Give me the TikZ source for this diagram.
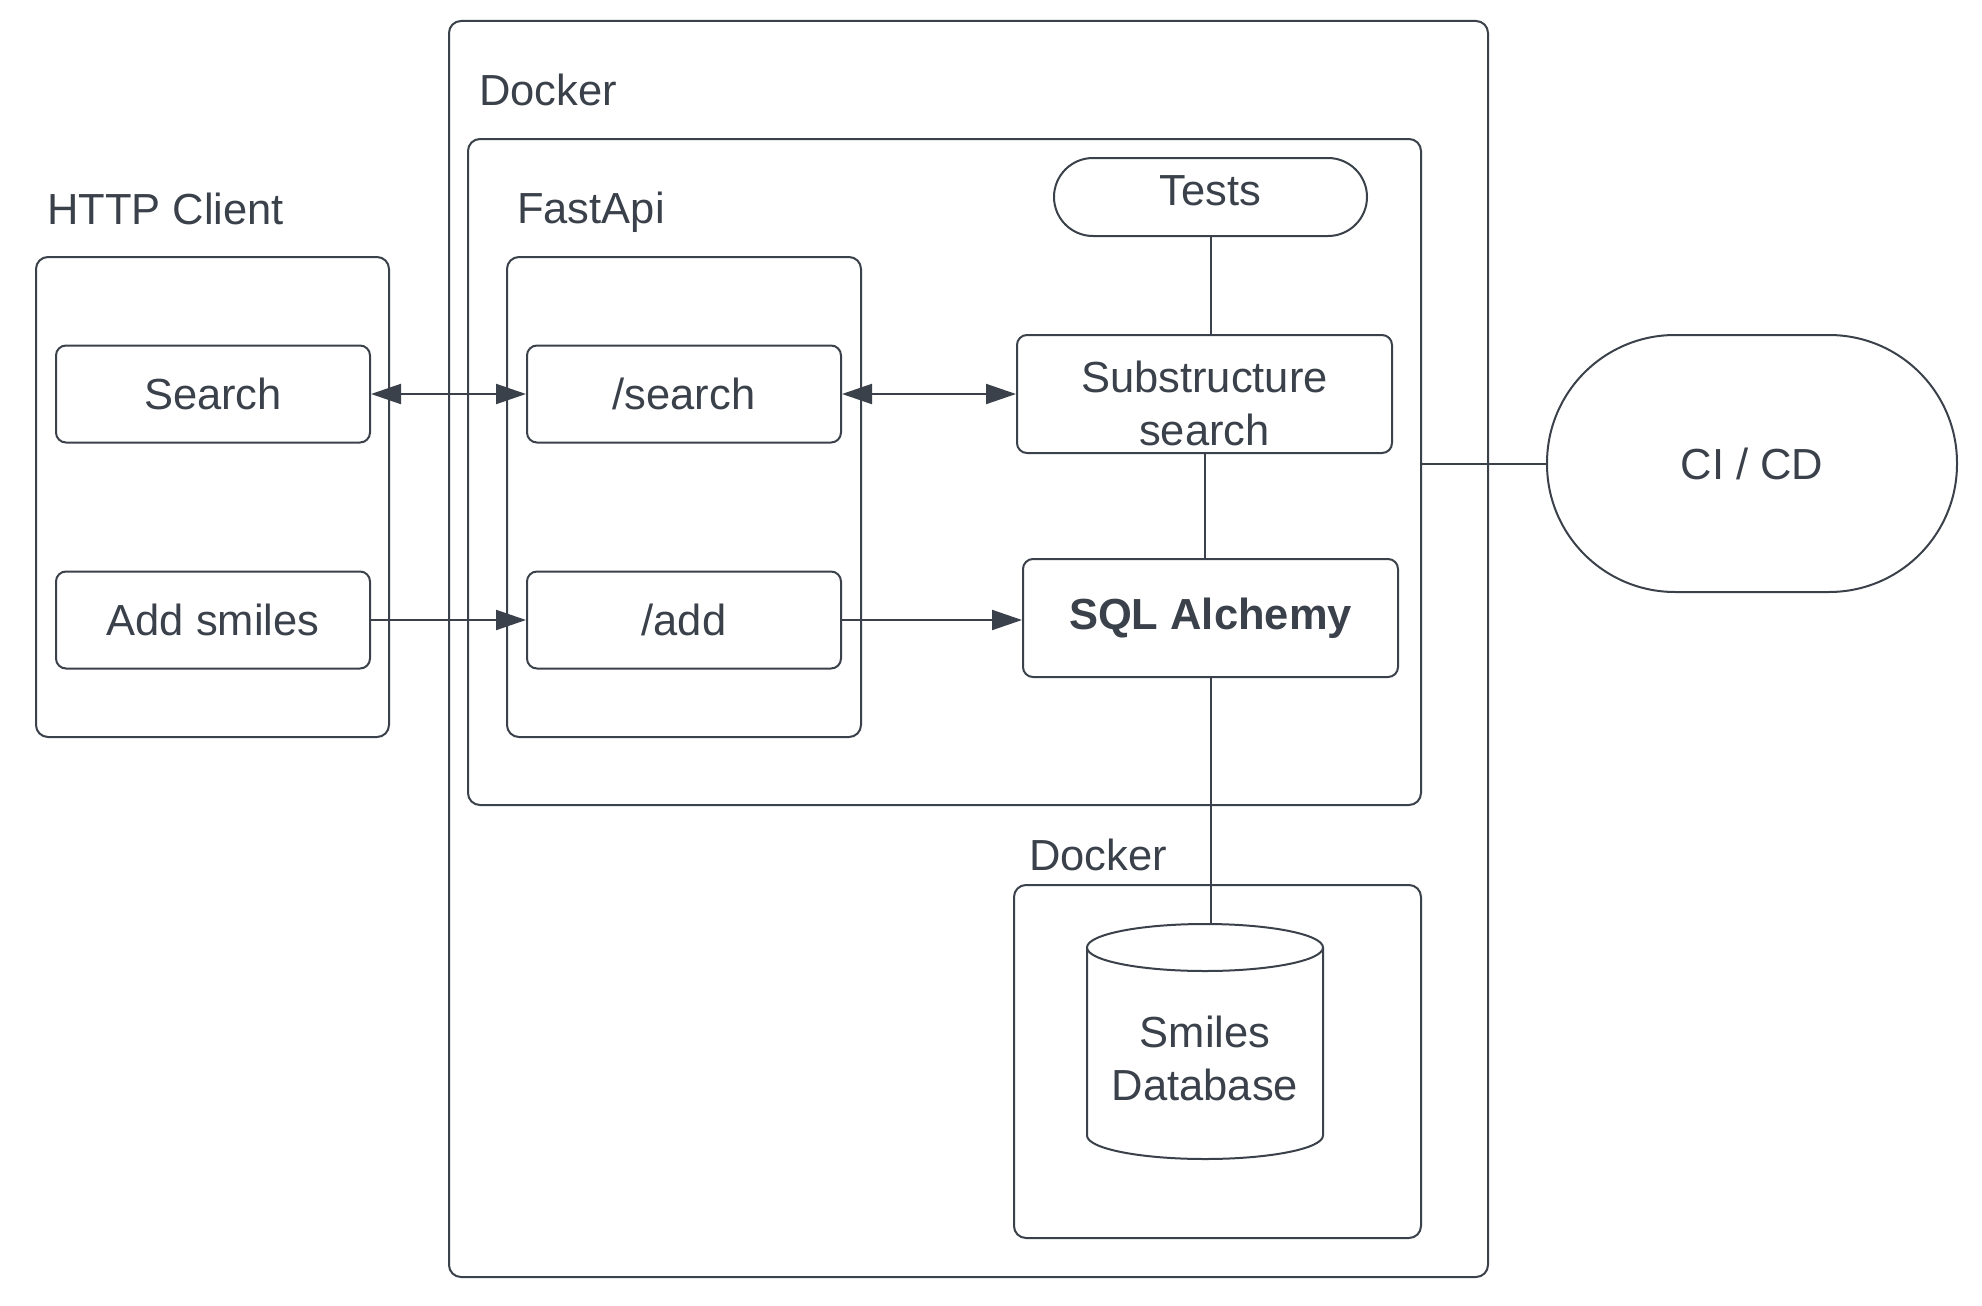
\documentclass[tikz,border=0pt]{standalone}
\usepackage{fontspec}
\setmainfont{Liberation Sans}
\usetikzlibrary{arrows.meta}
\definecolor{ink}{RGB}{58,65,74}
\begin{document}
\begin{tikzpicture}[x=1pt,y=-1pt,
  every node/.style={text=ink,font=\fontsize{43.5}{53}\selectfont},
  container/.style={draw=ink,line width=2pt,rounded corners=12pt,inner sep=0pt},
  box/.style={draw=ink,line width=2pt,rounded corners=10pt,inner sep=0pt,align=center},
  pill/.style={draw=ink,line width=2pt,inner sep=0pt,align=center},
  lbl/.style={anchor=base west,inner sep=0pt},
  conn/.style={draw=ink,line width=2pt},
  tip/.style={-{Triangle[length=30pt,width=20pt]}},
  tips/.style={{Triangle[length=30pt,width=20pt]}-{Triangle[length=30pt,width=20pt]}}]
\useasboundingbox (0,0) rectangle (1982,1306);

% containers
\node[container,minimum width=1039pt,minimum height=1256pt] (outer) at (968.5,649) {};
\node[container,minimum width=953pt,minimum height=666pt] (fastC) at (944.5,472) {};
\node[container,minimum width=353pt,minimum height=480pt] (http) at (212.5,497) {};
\node[container,minimum width=354pt,minimum height=480pt] (fastbox) at (684,497) {};
\node[container,minimum width=407pt,minimum height=353pt] (dbdock) at (1217.5,1061.5) {};

% labels
\node[lbl] (lDocker) at (479,105) {Docker};
\node[lbl] (lFast) at (517,223) {FastApi};
\node[lbl] (lHttp) at (47,224) {HTTP Client};
\node[lbl] (lDocker2) at (1029,870) {Docker};

% boxes
\node[box,minimum width=314pt,minimum height=97pt] (search) at (213,394) {Search};
\node[box,minimum width=314pt,minimum height=97pt] (addsm) at (213,620) {Add smiles};
\node[box,minimum width=314pt,minimum height=97pt] (psearch) at (684,394) {/search};
\node[box,minimum width=314pt,minimum height=97pt] (padd) at (684,620) {/add};
\node[pill,rounded corners=39pt,minimum width=313pt,minimum height=78pt] (tests) at (1210.5,197) {Tests\rule[-12pt]{0pt}{0pt}};
\node[box,minimum width=375pt,minimum height=118pt] (sub) at (1204.5,394) {\rule{0pt}{51pt}Substructure\\search};
\node[box,minimum width=375pt,minimum height=118pt] (sql) at (1210.5,618) {\bfseries SQL Alchemy};
\node[pill,rounded corners=128pt,minimum width=410pt,minimum height=257pt] (cicd) at (1752,463.5) {CI / CD};

% database cylinder
\draw[draw=ink,line width=2pt,fill=white] (1087,947.5) -- (1087,1135.5)
  arc[start angle=180,end angle=360,x radius=118pt,y radius=23.5pt] -- (1323,947.5);
\draw[draw=ink,line width=2pt,fill=white] (1205,947.5) ellipse[x radius=118pt,y radius=23.5pt];
\node[align=center,inner sep=0pt] (db) at (1205,1058) {Smiles\\Database};
\coordinate (dbtop) at (1211,924);

% connectors
\draw[conn,tips] (search.east) -- (psearch.west);
\draw[conn,tip] (addsm.east) -- (padd.west);
\draw[conn,tips] (psearch.east) -- (psearch.east -| sub.west);
\draw[conn,tip] (padd.east) -- (padd.east -| sql.west);
\draw[conn] (tests.south) -- (tests.south |- sub.north);
\draw[conn] (sub.south) -- (sub.south |- sql.north);
\draw[conn] (sql.south) -- (sql.south |- dbtop);
\draw[conn] (cicd.west) -- (cicd.west -| fastC.east);
\end{tikzpicture}
\end{document}
